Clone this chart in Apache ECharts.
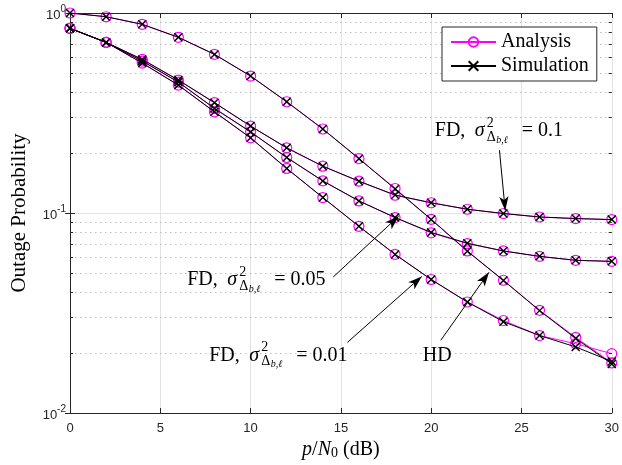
<!DOCTYPE html>
<html>
<head>
<meta charset="utf-8">
<script src="https://cdn.jsdelivr.net/npm/echarts@6/dist/echarts.min.js"></script>
<style>
html,body{margin:0;padding:0;background:#fff;}
#c{width:622px;height:465px;}
</style>
</head>
<body>
<div id="c"></div>
<script>
// ---------------- data ----------------
const snr = [0, 2, 4, 6, 8, 10, 12, 14, 16, 18, 20, 22, 24, 26, 28, 30];

const hdAna    = [1.0, 0.958, 0.878, 0.756, 0.621, 0.484, 0.360, 0.263, 0.187, 0.1326, 0.0930, 0.0646, 0.0461, 0.0326, 0.0239, 0.0178];
const hdSim    = [1.0, 0.958, 0.878, 0.756, 0.621, 0.484, 0.360, 0.263, 0.187, 0.1320, 0.0928, 0.0644, 0.0460, 0.0325, 0.0236, 0.0176];

const fd10Ana  = [0.838, 0.713, 0.586, 0.462, 0.356, 0.272, 0.2117, 0.1714, 0.1442, 0.1227, 0.1125, 0.1044, 0.0994, 0.0955, 0.0938, 0.0927];
const fd10Sim  = [0.838, 0.713, 0.586, 0.462, 0.356, 0.272, 0.2117, 0.1714, 0.1442, 0.1230, 0.1125, 0.1044, 0.0994, 0.0955, 0.0938, 0.0927];

const fd05Ana  = [0.838, 0.713, 0.575, 0.4515, 0.3334, 0.2544, 0.1895, 0.1447, 0.1149, 0.0949, 0.0796, 0.0703, 0.0646, 0.0607, 0.0580, 0.0573];
const fd05Sim  = [0.838, 0.713, 0.575, 0.4515, 0.3334, 0.2544, 0.1895, 0.1447, 0.1149, 0.0949, 0.0800, 0.0706, 0.0646, 0.0607, 0.0580, 0.0573];

const fd01Ana  = [0.838, 0.713, 0.562, 0.436, 0.3205, 0.2375, 0.167, 0.1195, 0.0858, 0.0621, 0.0465, 0.0359, 0.0290, 0.0244, 0.0222, 0.0198];
const fd01Sim  = [0.838, 0.713, 0.562, 0.436, 0.3205, 0.2375, 0.167, 0.1195, 0.0858, 0.0621, 0.0465, 0.0359, 0.0286, 0.0244, 0.0214, 0.0181];

const xTicks = [0, 5, 10, 15, 20, 25, 30];
const yMajor = [0.01, 0.1, 1];
const yMinor = [0.02, 0.03, 0.04, 0.05, 0.06, 0.07, 0.08, 0.09, 0.2, 0.3, 0.4, 0.5, 0.6, 0.7, 0.8, 0.9];

const legendNames = ['Analysis', 'Simulation'];

// annotation arrows: [tail x, tail y, head x, head y] in data units
const arrowFD10 = [23.78, 0.206, 24.1, 0.103];
const arrowFD05 = [14.58, 0.0479, 18.2, 0.0964];
const arrowFD01 = [15.36, 0.02254, 19.48, 0.0482];
const arrowHD   = [20.53, 0.0231, 23.2, 0.0505];

// annotation text anchors (left x, centre y) in data units, with label value
const textFD10 = [20.2, 0.2566, '0.1'];
const textFD05 = [6.49, 0.0463, '0.05'];
const textFD01 = [7.705, 0.0194, '0.01'];
const textHD   = [19.54, 0.01929, 'HD'];

// ---------------- chart ----------------
const SERIF = '"Liberation Serif", "Times New Roman", serif';
const SANS = '"Liberation Sans", Arial, sans-serif';
const pairs = (ys) => snr.map((x, i) => [x, ys[i]]);

const anaStyle = (data) => ({
  name: 'Analysis', type: 'line', data: pairs(data),
  symbol: 'circle', symbolSize: 10, z: 2,
  itemStyle: { color: 'rgba(0,0,0,0)', borderColor: '#ff00ff', borderWidth: 1.2 },
  lineStyle: { color: '#ff00ff', width: 1 },
  emphasis: { disabled: true }
});
const simStyle = (data) => ({
  name: 'Simulation', type: 'line', data: pairs(data),
  symbol: 'path://M0,0L10,10M10,0L0,10', symbolSize: 8, z: 3,
  itemStyle: { color: '#000', borderColor: '#000', borderWidth: 1.4 },
  lineStyle: { color: '#000', width: 1 },
  emphasis: { disabled: true }
});

function arrowLine(a) {
  return [
    { coord: [a[0], a[1]], symbol: 'none' },
    { coord: [a[2], a[3]], symbol: 'arrow', symbolSize: [7, 14] }
  ];
}

const gridLines = yMinor.map(v => ({ yAxis: v }));
const minorTicks = [];
yMinor.forEach(v => {
  minorTicks.push([{ coord: [0, v], symbol: 'none' }, { coord: [0.17, v], symbol: 'none' }]);
  minorTicks.push([{ coord: [29.83, v], symbol: 'none' }, { coord: [30, v], symbol: 'none' }]);
});

const series = [
  anaStyle(hdAna), anaStyle(fd10Ana), anaStyle(fd05Ana), anaStyle(fd01Ana),
  simStyle(hdSim), simStyle(fd10Sim), simStyle(fd05Sim), simStyle(fd01Sim)
];
// minor dotted grid
series[0].markLine = {
  silent: true, symbol: 'none', label: { show: false }, animation: false,
  lineStyle: { color: '#bdbdbd', type: [1.5, 3.5], width: 1 },
  data: gridLines, z: 0
};
// minor ticks
series[1].markLine = {
  silent: true, symbol: 'none', label: { show: false }, animation: false,
  lineStyle: { color: '#262626', type: 'solid', width: 1 },
  data: minorTicks
};
// arrows
series[4].markLine = {
  silent: true, label: { show: false }, animation: false,
  lineStyle: { color: '#000', type: 'solid', width: 1 },
  itemStyle: { color: '#000' },
  data: [arrowLine(arrowFD10), arrowLine(arrowFD05), arrowLine(arrowFD01), arrowLine(arrowHD)]
};

const chart = echarts.init(document.getElementById('c'), null, { renderer: 'canvas' });

const axisLineStyle = { show: true, lineStyle: { color: '#262626', width: 1 } };

chart.setOption({
  animation: false,
  backgroundColor: '#fff',
  grid: { left: 70, right: 7, top: 13, bottom: 52, containLabel: false },
  legend: {
    data: legendNames,
    orient: 'vertical',
    left: 442, top: 27,
    padding: [5, 8, 5, 8],
    itemGap: 4,
    itemWidth: 45, itemHeight: 12,
    backgroundColor: '#fff',
    borderColor: '#262626', borderWidth: 1,
    textStyle: { fontFamily: SERIF, fontSize: 20, color: '#000' },
    selectedMode: false
  },
  xAxis: [{
    type: 'value', min: 0, max: 30, interval: 5,
    name: '{i|p}{r|/}{i|N}{sub|0}{r| (dB)}',
    nameLocation: 'middle', nameGap: 26,
    nameTextStyle: {
      rich: {
        i: { fontFamily: SERIF, fontStyle: 'italic', fontSize: 20, color: '#000' },
        r: { fontFamily: SERIF, fontSize: 20, color: '#000' },
        sub: { fontFamily: SERIF, fontSize: 14, color: '#000', verticalAlign: 'bottom', padding: [0, 0, 0, 0] }
      }
    },
    axisLine: axisLineStyle,
    axisTick: { show: true, inside: true, length: 5, lineStyle: { color: '#262626' } },
    axisLabel: { margin: 9, fontFamily: SANS, fontSize: 13, color: '#262626',
      formatter: (v) => xTicks.includes(v) ? String(v) : '' },
    splitLine: { show: true, lineStyle: { color: '#e3e3e3', width: 1 } }
  }, {
    type: 'value', min: 0, max: 30, interval: 5, position: 'top',
    axisLine: axisLineStyle,
    axisTick: { show: true, inside: true, length: 5, lineStyle: { color: '#262626' } },
    axisLabel: { show: false }, splitLine: { show: false }
  }],
  yAxis: [{
    type: 'log', logBase: 10, min: 0.01, max: 1,
    name: 'Outage Probability',
    nameLocation: 'middle', nameGap: 40,
    nameTextStyle: { fontFamily: SERIF, fontSize: 21, color: '#000' },
    axisLine: axisLineStyle,
    axisTick: { show: true, inside: true, length: 5, lineStyle: { color: '#262626' } },
    axisLabel: {
      margin: 4, color: '#262626',
      formatter: (v) => {
        const e = Math.round(Math.log10(v));
        return '{b|10}{s|' + e + '}';
      },
      rich: {
        b: { fontFamily: SANS, fontSize: 13, color: '#262626', padding: [5, 0, 0, 0] },
        s: { fontFamily: SANS, fontSize: 10, color: '#262626', verticalAlign: 'top' }
      }
    },
    splitLine: { show: true, lineStyle: { color: '#e3e3e3', width: 1 } }
  }, {
    type: 'log', logBase: 10, min: 0.01, max: 1, position: 'right',
    axisLine: axisLineStyle,
    axisTick: { show: true, inside: true, length: 5, lineStyle: { color: '#262626' } },
    axisLabel: { show: false }, splitLine: { show: false }
  }],
  series: series
});

// ---------- annotation texts ----------
const mctx = document.createElement('canvas').getContext('2d');
function tw(text, font) { mctx.font = font; return mctx.measureText(text).width; }

function txt(x, y, text, size, italic) {
  return {
    type: 'text', x: x, y: y, z: 100, silent: true,
    style: {
      text: text, fill: '#000',
      font: (italic ? 'italic ' : '') + size + 'px ' + SERIF,
      align: 'left', verticalAlign: 'middle'
    }
  };
}

function fdLabel(anchor) {
  const p = chart.convertToPixel({ xAxisIndex: 0, yAxisIndex: 0 }, [anchor[0], anchor[1]]);
  const L = p[0], cy = p[1];
  if (anchor[2] === 'HD') return [txt(L, cy, 'HD', 20, false)];
  const dW = tw('\u0394', '14px ' + SERIF);
  return [
    txt(L, cy, 'FD,', 20, false),
    txt(L + 40, cy, '\u03c3', 20, true),
    txt(L + 52, cy - 8, '2', 14, false),
    txt(L + 52, cy + 6, '\u0394', 14, false),
    txt(L + 52 + dW + 0.5, cy + 9, 'b,\u2113', 10, true),
    txt(L + 87, cy, '= ' + anchor[2], 20, false)
  ];
}

const graphics = [].concat(fdLabel(textFD10), fdLabel(textFD05), fdLabel(textFD01), fdLabel(textHD));
chart.setOption({ graphic: graphics });
</script>
</body>
</html>
